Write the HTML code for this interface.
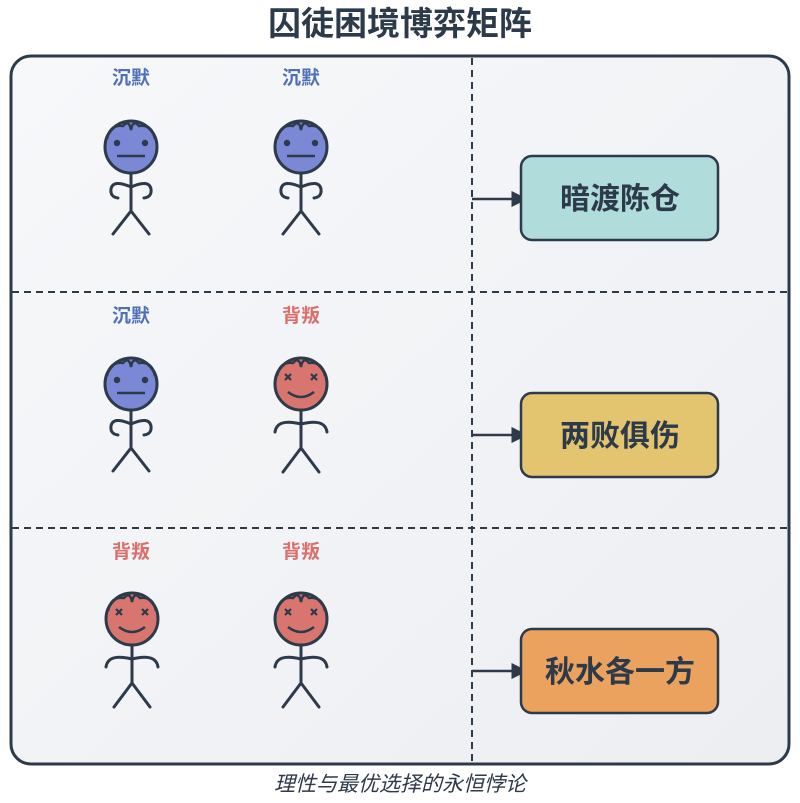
<!DOCTYPE html>
<html><head><meta charset="utf-8"><style>
html,body{margin:0;padding:0;background:#fff;}
svg{display:block;}
text{font-family:"Liberation Sans","Noto Sans CJK SC",sans-serif;}
</style></head><body>
<svg width="800" height="803" viewBox="0 0 800 803" xmlns="http://www.w3.org/2000/svg">
<defs>
<linearGradient id="bg" x1="0" y1="0" x2="1" y2="1"><stop offset="0" stop-color="#f7f8fa"/><stop offset="1" stop-color="#eceef2"/></linearGradient>
<g id="silent">
  <circle cx="0" cy="0" r="26" fill="#7b88d6" stroke="#2d3a4a" stroke-width="3"/>
  <path d="M-24,-8 Q-21,-23 -8,-21 Q-2,-28 0,-17 Q2,-28 8,-21 Q21,-23 24,-8" fill="none" stroke="#2d3a4a" stroke-width="2.5"/>
  <circle cx="-14" cy="-4" r="3.2" fill="#2d3a4a"/><circle cx="14" cy="-4" r="3.2" fill="#2d3a4a"/>
  <line x1="-14" y1="9" x2="14" y2="9" stroke="#2d3a4a" stroke-width="2.5"/>
  <g fill="none" stroke="#2d3a4a" stroke-width="3" stroke-linecap="round">
  <line x1="0" y1="26" x2="0" y2="64"/>
  <path d="M0,40 Q-18,32 -20,42 Q-21,50 -13,51"/>
  <path d="M0,40 Q18,32 20,42 Q21,50 13,51"/>
  <path d="M0,64 L-18,87 M0,64 L18,87"/>
  </g>
</g>
<g id="betray">
  <circle cx="0" cy="0" r="26" fill="#d9756f" stroke="#2d3a4a" stroke-width="3"/>
  <path d="M-24,-8 Q-21,-23 -8,-21 Q-2,-28 0,-17 Q2,-28 8,-21 Q21,-23 24,-8" fill="none" stroke="#2d3a4a" stroke-width="2.5"/>
  <g stroke="#2d3a4a" stroke-width="2.2"><path d="M-16,-10 L-10,-4 M-10,-10 L-16,-4 M10,-10 L16,-4 M16,-10 L10,-4"/></g>
  <path d="M-13,8 Q0,18 13,8" fill="none" stroke="#2d3a4a" stroke-width="2.5"/>
  <g fill="none" stroke="#2d3a4a" stroke-width="3" stroke-linecap="round">
  <line x1="0" y1="26" x2="0" y2="64"/>
  <path d="M0,40 Q-24,34 -26,48"/>
  <path d="M0,40 Q24,34 26,48"/>
  <path d="M0,64 L-18,88 M0,64 L18,88"/>
  </g>
</g>
<marker id="ah" viewBox="0 0 10 10" refX="9" refY="5" markerWidth="6.5" markerHeight="6.5" orient="auto"><path d="M0,0 L10,5 L0,10z" fill="#2d3a4a"/></marker>
</defs>
<text x="400" y="35" text-anchor="middle" font-size="33" font-weight="bold" fill="#2d3a4a">囚徒困境博弈矩阵</text>
<rect x="11" y="56" width="778" height="708" rx="20" fill="url(#bg)" stroke="#2d3a4a" stroke-width="3"/>
<g stroke="#2d3a4a" stroke-width="2" stroke-dasharray="7,5">
<line x1="472" y1="58" x2="472" y2="762"/>
<line x1="12" y1="292" x2="788" y2="292"/>
<line x1="12" y1="528" x2="788" y2="528"/>
</g>
<g font-size="19" font-weight="bold" text-anchor="middle">
<text x="131" y="84" fill="#4f6fb8">沉默</text><text x="301" y="84" fill="#4f6fb8">沉默</text>
<text x="131" y="322" fill="#4f6fb8">沉默</text><text x="301" y="322" fill="#d9706b">背叛</text>
<text x="131" y="558" fill="#d9706b">背叛</text><text x="301" y="558" fill="#d9706b">背叛</text>
</g>
<use href="#silent" x="131" y="147"/><use href="#silent" x="301" y="147"/>
<use href="#silent" x="131" y="384"/><use href="#betray" x="301" y="384"/>
<use href="#betray" x="132" y="619"/><use href="#betray" x="301" y="619"/>
<g stroke="#2d3a4a" stroke-width="2.5" marker-end="url(#ah)">
<line x1="472" y1="199" x2="526" y2="199"/>
<line x1="472" y1="435" x2="526" y2="435"/>
<line x1="472" y1="671" x2="526" y2="671"/>
</g>
<g stroke="#2d3a4a" stroke-width="2.5">
<rect x="521" y="156" width="197" height="84" rx="11" fill="#b0dcdc"/>
<rect x="521" y="393" width="197" height="84" rx="11" fill="#e4c56f"/>
<rect x="521" y="629" width="197" height="84" rx="11" fill="#eba25e"/>
</g>
<g font-size="30" font-weight="bold" text-anchor="middle" fill="#2d3a4a">
<text x="620" y="209">暗渡陈仓</text>
<text x="620" y="446">两败俱伤</text>
<text x="620" y="682">秋水各一方</text>
</g>
<text x="400" y="791" text-anchor="middle" font-size="21" font-style="italic" fill="#2d3a4a">理性与最优选择的永恒悖论</text>
</svg>
</body></html>
